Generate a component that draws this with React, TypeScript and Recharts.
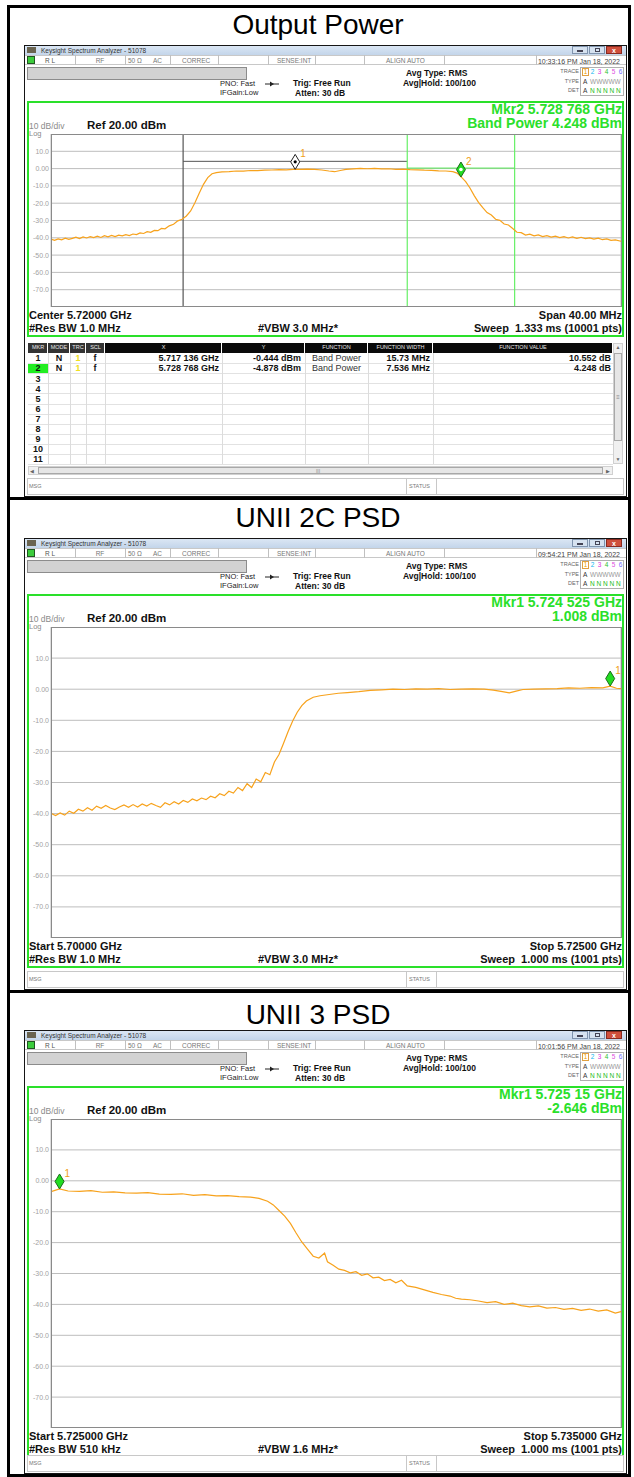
import React from "react";
import { LineChart, Line, XAxis, YAxis, CartesianGrid, ReferenceLine, ReferenceDot } from "recharts";

const FONT = '"Liberation Sans", Arial, Helvetica, sans-serif';
const TRACE = "#f7a21c";
const GREEN = "#2ae02a";
const LEVEL_TICKS = [20, 10, 0, -10, -20, -30, -40, -50, -60, -70, -80];

// Output Power: 5.700 - 5.740 GHz, offsets in MHz from 5.700 GHz
const OP_FREQ = [
  0, 0.25, 0.5, 0.75, 1, 1.25, 1.5, 1.75, 2, 2.25, 2.5, 2.75, 3, 3.25, 3.5, 3.75, 4, 4.25, 4.5, 4.75,
  5, 5.25, 5.5, 5.75, 6, 6.25, 6.5, 6.75, 7, 7.25, 7.5, 7.75, 8, 8.3, 8.6, 8.9, 9.2, 9.5, 9.8,
  10.1, 10.4, 10.7, 11, 11.3, 11.6, 12, 12.5, 13, 13.5, 14, 14.5, 15, 15.5, 16, 16.5, 17, 17.5, 18,
  18.5, 19, 19.5, 19.9, 20.3, 20.7, 21.2, 21.7, 22.2, 22.7, 23.2, 23.7, 24.2, 24.7, 25.2, 25.7, 26.2,
  26.7, 27.2, 27.7, 28.2, 28.5, 28.8, 29.1, 29.4, 29.7, 30, 30.3, 30.6, 30.9, 31.2, 31.5, 31.8, 32.1,
  32.4, 32.7, 33, 33.3, 33.6, 33.9, 34.2, 34.5, 34.8, 35.1, 35.4, 35.7, 36, 36.3, 36.6, 36.9, 37.2,
  37.5, 37.8, 38.1, 38.4, 38.7, 39, 39.3, 39.6, 40,
];
const OP_LEVEL = [
  -40.8, -41.5, -40.6, -41.2, -40.2, -40.9, -40.3, -39.6, -40.4, -39.5, -40.1, -39.3, -39.9, -39.1,
  -39.8, -38.8, -39.4, -38.6, -39.3, -38.5, -38.9, -38.2, -38.7, -37.8, -38.1, -37.2, -37.5, -36.5,
  -36.8, -35.7, -35.9, -34.6, -34.8, -33.1, -32.2, -30.2, -29.3, -27.4, -24.5, -19.8, -14.2, -9.1,
  -5.2, -3.0, -2.3, -1.9, -1.8, -1.4, -1.5, -1.1, -1.2, -0.9, -0.8, -0.6, -0.7, -0.4, -0.5, -0.3,
  -0.5, -0.8, -1.4, -1.8, -1.1, -0.5, -0.2, 0.1, -0.1, 0.1, -0.2, -0.1, -0.4, -0.3, -0.6, -0.7, -0.9,
  -1.0, -1.3, -1.4, -1.8, -2.6, -4.9, -7.5, -11.2, -15.6, -19.5, -22.6, -25.4, -26.8, -29.3, -29.9,
  -32.0, -32.6, -34.6, -36.8, -37.0, -38.4, -37.9, -38.9, -38.3, -39.3, -38.8, -39.6, -39.0, -39.9,
  -39.3, -40.1, -39.5, -40.3, -39.7, -40.5, -40.0, -40.7, -40.2, -41.1, -40.6, -41.5, -41.2, -42.0,
];
const OP_FREQ_TICKS = [0, 4, 8, 12, 16, 20, 24, 28, 32, 36, 40];
const OP_BAND_CENTER = [17.136, 28.768];
const OP_BAND_WIDTH = [15.73, 7.536];
const OP_BAND_LINE_LEVEL = [4.2, 0.3];
const OP_MKR_FREQ = [17.136, 28.768];
const OP_MKR_LEVEL = [-0.444, -4.878];

// UNII 2C PSD: 5.700 - 5.725 GHz
const U2_FREQ = [
  0, 0.2, 0.4, 0.6, 0.8, 1, 1.2, 1.4, 1.6, 1.8, 2, 2.2, 2.4, 2.6, 2.8, 3, 3.2, 3.4, 3.6, 3.8, 4, 4.2,
  4.4, 4.6, 4.8, 5, 5.2, 5.4, 5.6, 5.8, 6, 6.2, 6.4, 6.6, 6.8, 7, 7.2, 7.4, 7.6, 7.8, 8, 8.2, 8.4,
  8.6, 8.8, 9, 9.2, 9.4, 9.6, 9.8, 10, 10.2, 10.4, 10.6, 10.8, 11, 11.2, 11.5, 11.8, 12.2, 12.6, 13,
  13.5, 14, 14.5, 15, 15.5, 16, 16.5, 17, 17.5, 18, 18.5, 19, 19.4, 19.8, 20.1, 20.4, 20.7, 21.2,
  21.7, 22.2, 22.7, 23.2, 23.7, 24.2, 24.525, 24.8, 25,
];
const U2_LEVEL = [
  -39.9, -40.6, -39.8, -40.5, -39.2, -39.9, -38.6, -39.2, -38.1, -38.9, -37.6, -38.3, -37.4, -38.2,
  -38.7, -37.9, -37.2, -38.0, -37.1, -37.9, -36.9, -37.6, -36.7, -37.4, -38.0, -36.5, -37.2, -36.2,
  -36.9, -35.8, -36.4, -35.3, -35.9, -35.0, -35.5, -34.4, -34.9, -33.6, -34.2, -32.8, -33.4, -31.6,
  -32.6, -30.4, -31.6, -28.9, -29.8, -26.8, -27.5, -23.4, -21.0, -17.4, -13.6, -10.2, -7.4, -5.3,
  -3.8, -2.6, -2.1, -1.7, -1.3, -1.1, -0.8, -0.4, -0.2, 0.0, -0.1, 0.1, 0.0, 0.2, -0.1, 0.0, 0.1,
  0.0, -0.3, -0.8, -1.2, -0.6, -0.1, 0.0, 0.1, 0.2, 0.4, 0.3, 0.5, 0.4, 1.0, 0.3, 0.2,
];
const U2_FREQ_TICKS = [0, 2.5, 5, 7.5, 10, 12.5, 15, 17.5, 20, 22.5, 25];
const U2_MKR_FREQ = [24.525];
const U2_MKR_LEVEL = [1.008];

// UNII 3 PSD: 5.725 - 5.735 GHz
const U3_FREQ = [
  0, 0.15, 0.3, 0.5, 0.7, 0.9, 1.1, 1.3, 1.5, 1.7, 1.9, 2.1, 2.3, 2.5, 2.7, 2.9, 3.1, 3.3, 3.5, 3.65,
  3.8, 3.9, 4, 4.1, 4.2, 4.3, 4.4, 4.5, 4.6, 4.7, 4.8, 4.85, 4.95, 5.05, 5.15, 5.25, 5.35, 5.45, 5.55,
  5.65, 5.75, 5.85, 5.95, 6.05, 6.15, 6.25, 6.4, 6.55, 6.7, 6.85, 7, 7.1, 7.2, 7.35, 7.5, 7.65, 7.8,
  7.95, 8.1, 8.25, 8.4, 8.55, 8.7, 8.85, 9, 9.15, 9.3, 9.45, 9.6, 9.75, 9.9, 10,
];
const U3_LEVEL = [
  -3.5, -2.6, -3.3, -3.4, -3.2, -3.7, -3.6, -3.9, -4.0, -3.8, -4.3, -4.4, -4.2, -4.7, -4.5, -4.9, -4.8,
  -5.1, -5.3, -5.7, -6.6, -7.8, -9.6, -11.4, -13.8, -16.9, -19.8, -22.1, -24.4, -25.0, -23.4, -26.2,
  -27.3, -28.6, -29.0, -29.8, -29.4, -30.6, -30.1, -31.4, -31.2, -32.3, -31.9, -33.0, -32.2, -34.0,
  -34.5, -35.3, -36.1, -36.8, -37.3, -38.0, -38.3, -38.5, -38.9, -39.4, -39.1, -40.0, -39.6, -40.4,
  -40.8, -40.5, -41.2, -41.0, -41.6, -41.3, -41.9, -41.5, -42.2, -41.8, -42.8, -42.3,
];
const U3_FREQ_TICKS = [0, 1, 2, 3, 4, 5, 6, 7, 8, 9, 10];
const U3_MKR_FREQ = [0.15];
const U3_MKR_LEVEL = [-2.646];

// marker table
const TBL_HEAD = ["MKR", "MODE", "TRC", "SCL", "X", "Y", "FUNCTION", "FUNCTION WIDTH", "FUNCTION VALUE"];
const TBL_X = ["5.717 136 GHz", "5.728 768 GHz"];
const TBL_Y = ["-0.444 dBm", "-4.878 dBm"];
const TBL_FUNC = ["Band Power", "Band Power"];
const TBL_WIDTH = ["15.73 MHz", "7.536 MHz"];
const TBL_VALUE = ["10.552 dB", "4.248 dB"];
const TBL_ROWS = [1, 2, 3, 4, 5, 6, 7, 8, 9, 10, 11];

const TRACE_NUM_COLORS = ["#f0a000", "#10b8f0", "#e030e0", "#30c030", "#e050e0", "#7070ff"];

const toRows = (f: number[], v: number[]) => f.map((x, i) => ({ f: x, v: v[i] }));
const fmtLevel = (v: number) => (v === 20 || v === -80 ? "" : v === 0 ? "0.00" : v.toFixed(1));

function Txt({ x, y, s = 8, b = false, c = "#000", a = "l", children }: any) {
  const tx = a === "l" ? "0" : a === "r" ? "-100%" : "-50%";
  return (
    <div
      style={{
        position: "absolute",
        left: x,
        top: y,
        transform: `translate(${tx},-50%)`,
        fontSize: s,
        fontWeight: b ? 700 : 400,
        color: c,
        lineHeight: 1,
        whiteSpace: "pre",
        fontFamily: FONT,
      }}
    >
      {children}
    </div>
  );
}

function Box({ x, y, w, h, bg = "transparent", bd }: any) {
  return (
    <div
      style={{
        position: "absolute",
        left: x,
        top: y,
        width: w,
        height: h,
        background: bg,
        border: bd,
        boxSizing: "border-box",
      }}
    />
  );
}

function diamond(kind: "white" | "green" | "active", label: string) {
  return (p: any) => {
    const { cx, cy } = p;
    const h = 15;
    const w = 4.5;
    const my = cy - h / 2;
    const fill = kind === "white" ? "#ffffff" : "#22dd22";
    const stroke = kind === "white" ? "#222" : "#1a6a1a";
    return (
      <g>
        <polygon
          points={`${cx},${cy - h} ${cx + w},${my} ${cx},${cy} ${cx - w},${my}`}
          fill={fill}
          stroke={stroke}
          strokeWidth={1}
        />
        {kind === "white" && <circle cx={cx} cy={my} r={1.6} fill="#000" />}
        {kind === "active" && <circle cx={cx} cy={my} r={1.8} fill="#fff" />}
        <text x={cx + 5} y={cy - h + 3} fontSize={10} fill="#f0a020" fontFamily={FONT}>
          {label}
        </text>
      </g>
    );
  };
}

function Spectrum({ data, span, ticks, height, bands, markers }: any) {
  return (
    <LineChart width={594} height={height} data={data} margin={{ top: 0, right: 0, bottom: 0, left: 0 }}>
      <CartesianGrid stroke="#bdbdbd" strokeWidth={1} />
      <XAxis
        type="number"
        dataKey="f"
        domain={[0, span]}
        ticks={ticks}
        interval={0}
        height={0}
        tick={false}
        axisLine={false}
        tickLine={false}
        allowDataOverflow
      />
      <YAxis
        type="number"
        domain={[-80, 20]}
        ticks={LEVEL_TICKS}
        interval={0}
        width={24}
        axisLine={false}
        tickLine={false}
        tickSize={0}
        tickMargin={2}
        tick={{ fontSize: 7, fill: "#a2a2a2", fontFamily: FONT }}
        tickFormatter={fmtLevel}
        allowDataOverflow
      />
      {bands}
      <Line type="linear" dataKey="v" stroke={TRACE} strokeWidth={1.2} dot={false} isAnimationActive={false} />
      {markers}
    </LineChart>
  );
}

const W = 603;

function Header({ time }: { time: string }) {
  const seps = [51, 101, 146, 194, 244, 291, 340, 420, 512];
  return (
    <>
      <div style={{ position: "absolute", left: 0, top: 0, width: W, height: 10, background: "linear-gradient(#dde8f5,#c3d5ea)" }} />
      <Box x={3} y={2} w={9} h={6} bg="#6a6450" />
      <Txt x={17} y={5.5} s={6.5} c="#333">Keysight Spectrum Analyzer - 51078</Txt>
      <Box x={548} y={1} w={16} h={8} bg="#d6e2f0" bd="1px solid #7f93ad" />
      <Box x={565} y={1} w={16} h={8} bg="#d6e2f0" bd="1px solid #7f93ad" />
      <Box x={582} y={1} w={16} h={8} bg="#cf4f3c" bd="1px solid #8a2a20" />
      <Box x={553} y={5} w={6} h={1.5} bg="#445" />
      <Box x={571} y={3} w={5} h={4} bd="1px solid #445" />
      <Txt x={590} y={5} s={7} b c="#fff" a="c">x</Txt>
      <Box x={0} y={10} w={W} h={10} bg="#fff" bd="1px solid #c8c8c8" />
      {seps.map((s) => (
        <Box key={s} x={s} y={10} w={1} h={10} bg="#c0c0c0" />
      ))}
      <Box x={3} y={11} w={8} h={8} bg="#3ccc3c" bd="1px solid #225522" />
      <Txt x={21} y={15.5} s={6.5} c="#555">R L</Txt>
      <Txt x={76} y={15.5} s={6.5} c="#777" a="c">RF</Txt>
      <Txt x={104} y={15.5} s={6.5} c="#777">50 Ω</Txt>
      <Txt x={129} y={15.5} s={6.5} c="#777">AC</Txt>
      <Txt x={158} y={15.5} s={6.5} c="#777">CORREC</Txt>
      <Txt x={253} y={15.5} s={6.5} c="#777">SENSE:INT</Txt>
      <Txt x={362} y={15.5} s={6.5} c="#777">ALIGN AUTO</Txt>
      <Txt x={596} y={15.5} s={7} c="#444" a="r">{time}</Txt>
      <Box x={3} y={22} w={220} h={12.5} bg="#d2d2d2" bd="1px solid #8c8c8c" />
      <Txt x={196} y={38.5} s={7.5} c="#222">PNO: Fast</Txt>
      <Txt x={196} y={47.5} s={7.5} c="#222">IFGain:Low</Txt>
      <svg style={{ position: "absolute", left: 241, top: 36 }} width={14} height={6}>
        <line x1={0} y1={3} x2={14} y2={3} stroke="#222" strokeWidth={1} />
        <polygon points="5,0.5 9,3 5,5.5" fill="#222" />
      </svg>
      <Txt x={269} y={38} s={8.5} b c="#111">Trig: Free Run</Txt>
      <Txt x={271} y={47.5} s={8.5} b c="#111">Atten: 30 dB</Txt>
      <Txt x={382} y={28} s={8.5} b c="#111">Avg Type: RMS</Txt>
      <Txt x={379} y={37.5} s={8.5} b c="#111">Avg|Hold: 100/100</Txt>
      <Txt x={555} y={27} s={5.5} c="#666" a="r">TRACE</Txt>
      <Txt x={555} y={36.5} s={5.5} c="#666" a="r">TYPE</Txt>
      <Txt x={555} y={46} s={5.5} c="#666" a="r">DET</Txt>
      <Box x={556} y={22} w={44} h={29} bd="1px solid #b0b0b0" />
      <Box x={558} y={23} w={7} h={8} bd="1px solid #e0a040" />
      {TRACE_NUM_COLORS.map((c, i) => (
        <Txt key={i} x={561.5 + i * 7} y={27} s={6.5} c={c} a="c">{String(i + 1)}</Txt>
      ))}
      <Txt x={559} y={36.5} s={6.5} c="#333">A</Txt>
      <Txt x={566} y={36.5} s={6.5} c="#999">WWWWW</Txt>
      <Txt x={559} y={46} s={6.5} c="#333">A</Txt>
      <Txt x={566} y={46} s={6.5} c="#22bb22">N N N N N</Txt>
    </>
  );
}

function MsgRow({ y }: { y: number }) {
  return (
    <>
      <Box x={3} y={y} w={597} h={17} bg="#fff" bd="1px solid #c8c8c8" />
      <Txt x={5} y={y + 8.5} s={5.5} c="#777">MSG</Txt>
      <Box x={382} y={y} w={1} h={17} bg="#c8c8c8" />
      <Txt x={385} y={y + 8.5} s={5.5} c="#777">STATUS</Txt>
      <Box x={412} y={y} w={1} h={17} bg="#c8c8c8" />
    </>
  );
}

function MarkerTable({ y }: { y: number }) {
  const cols = [4, 24, 46, 62, 81, 198, 281, 344, 409, 589];
  const rowTop = y + 13;
  const rh = 10.1;
  return (
    <>
      <Box x={3} y={y} w={597} h={137} bg="#fff" />
      {TBL_HEAD.map((h, i) => (
        <React.Fragment key={h}>
          <Box x={cols[i]} y={y + 3} w={cols[i + 1] - cols[i] - 1} h={9.5} bg={i < 4 ? "#333" : "#0a0a0a"} />
          <Txt x={(cols[i] + cols[i + 1]) / 2} y={y + 8} s={5.5} c="#e8e8e8" a="c">{h}</Txt>
        </React.Fragment>
      ))}
      {TBL_ROWS.map((r, i) => (
        <Box key={"l" + r} x={4} y={rowTop + (i + 1) * rh} w={585} h={1} bg="#e2e2e2" />
      ))}
      {cols.slice(1, 9).map((c) => (
        <Box key={"c" + c} x={c} y={rowTop} w={1} h={11 * rh} bg="#dcdcdc" />
      ))}
      <Box x={4} y={rowTop + rh + 0.5} w={20} h={rh - 0.5} bg="#22ee22" />
      {TBL_ROWS.map((r, i) => (
        <Txt key={"n" + r} x={14} y={rowTop + i * rh + 5.3} s={9} b c="#111" a="c">{String(r)}</Txt>
      ))}
      {TBL_X.map((x, i) => (
        <React.Fragment key={"r" + i}>
          <Txt x={35} y={rowTop + i * rh + 5.3} s={9} b c="#111" a="c">N</Txt>
          <Txt x={54} y={rowTop + i * rh + 5.3} s={9} b c="#f0e020" a="c">1</Txt>
          <Txt x={71} y={rowTop + i * rh + 5.3} s={9} b c="#111" a="c">f</Txt>
          <Txt x={195} y={rowTop + i * rh + 5.3} s={9} b c="#111" a="r">{x}</Txt>
          <Txt x={277} y={rowTop + i * rh + 5.3} s={9} b c="#111" a="r">{TBL_Y[i]}</Txt>
          <Txt x={288} y={rowTop + i * rh + 5.3} s={9} c="#333">{TBL_FUNC[i]}</Txt>
          <Txt x={406} y={rowTop + i * rh + 5.3} s={9} b c="#111" a="r">{TBL_WIDTH[i]}</Txt>
          <Txt x={587} y={rowTop + i * rh + 5.3} s={9} b c="#111" a="r">{TBL_VALUE[i]}</Txt>
        </React.Fragment>
      ))}
      <Box x={589} y={y + 3} w={10} h={121} bg="#f0f0f0" bd="1px solid #d0d0d0" />
      <Box x={590} y={y + 13} w={8} h={88} bg="#e6e6e6" bd="1px solid #a8a8a8" />
      <Txt x={594} y={y + 7} s={5} c="#666" a="c">▲</Txt>
      <Txt x={594} y={y + 57} s={6} c="#888" a="c">≡</Txt>
      <Txt x={594} y={y + 119} s={5} c="#666" a="c">▼</Txt>
      <Box x={4} y={y + 126} w={585} h={9} bg="#f0f0f0" bd="1px solid #d0d0d0" />
      <Box x={14} y={y + 127} w={565} h={7} bg="#e6e6e6" bd="1px solid #a8a8a8" />
      <Txt x={8} y={y + 130.5} s={5} c="#666" a="c">◀</Txt>
      <Txt x={294} y={y + 130.5} s={5} c="#888" a="c">III</Txt>
      <Txt x={584} y={y + 130.5} s={5} c="#666" a="c">▶</Txt>
    </>
  );
}

function Panel({ cfg }: any) {
  const plotTop = 89;
  const plotBottom = plotTop + cfg.plotH;
  const greenBottom = plotBottom + 30;
  return (
    <div style={{ position: "absolute", left: 24, top: cfg.top, width: W, height: cfg.height, background: "#fff" }}>
      <Header time={cfg.time} />
      <Box x={3} y={56} w={597} h={greenBottom - 56} bd={`2px solid ${GREEN}`} />
      <Txt x={598} y={64} s={14} b c={GREEN} a="r">{cfg.mkr[0]}</Txt>
      <Txt x={598} y={78} s={14} b c={GREEN} a="r">{cfg.mkr[1]}</Txt>
      <Txt x={5} y={80.5} s={8.5} c="#8a8a8a">10 dB/div</Txt>
      <Txt x={5} y={88.5} s={7.5} c="#8a8a8a">Log</Txt>
      <Txt x={63} y={81} s={11.5} b c="#111">Ref 20.00 dBm</Txt>
      <div style={{ position: "absolute", left: 3, top: plotTop }}>
        <Spectrum
          data={cfg.data}
          span={cfg.span}
          ticks={cfg.ticks}
          height={cfg.plotH}
          bands={cfg.bands}
          markers={cfg.markers}
        />
      </div>
      <Box x={27} y={plotTop} w={571} h={cfg.plotH} bd="1.5px solid #8a8a8a" />
      <Txt x={5} y={plotBottom + 8} s={11} b c="#111">{cfg.foot[0]}</Txt>
      <Txt x={598} y={plotBottom + 8} s={11} b c="#111" a="r">{cfg.foot[1]}</Txt>
      <Txt x={5} y={plotBottom + 21} s={11} b c="#111">{cfg.foot[2]}</Txt>
      <Txt x={234} y={plotBottom + 21} s={11} b c="#111">{cfg.foot[3]}</Txt>
      <Txt x={598} y={plotBottom + 21} s={11} b c="#111" a="r">{cfg.foot[4]}</Txt>
      {cfg.table && <MarkerTable y={greenBottom + 3} />}
      <MsgRow y={cfg.height - 19} />
      <div
        style={{
          position: "absolute",
          left: 0,
          top: 0,
          width: W,
          height: cfg.height,
          border: "1.5px solid #151515",
          boxSizing: "border-box",
        }}
      />
    </div>
  );
}

const opBands = [
  <ReferenceLine key="b1l" x={OP_BAND_CENTER[0] - OP_BAND_WIDTH[0] / 2} stroke="#555" strokeWidth={1.2} />,
  <ReferenceLine
    key="b1h"
    stroke="#555"
    strokeWidth={1}
    segment={[
      { x: OP_BAND_CENTER[0] - OP_BAND_WIDTH[0] / 2, y: OP_BAND_LINE_LEVEL[0] },
      { x: OP_BAND_CENTER[0] + OP_BAND_WIDTH[0] / 2, y: OP_BAND_LINE_LEVEL[0] },
    ]}
  />,
  <ReferenceLine key="b2l" x={OP_BAND_CENTER[1] - OP_BAND_WIDTH[1] / 2} stroke="#66f066" strokeWidth={1.2} />,
  <ReferenceLine key="b2r" x={OP_BAND_CENTER[1] + OP_BAND_WIDTH[1] / 2} stroke="#66f066" strokeWidth={1.2} />,
  <ReferenceLine
    key="b2h"
    stroke="#55e855"
    strokeWidth={1}
    segment={[
      { x: OP_BAND_CENTER[1] - OP_BAND_WIDTH[1] / 2, y: OP_BAND_LINE_LEVEL[1] },
      { x: OP_BAND_CENTER[1] + OP_BAND_WIDTH[1] / 2, y: OP_BAND_LINE_LEVEL[1] },
    ]}
  />,
];

const PANELS = [
  {
    title: "Output Power",
    titleY: 25,
    top: 45,
    height: 452,
    plotH: 173,
    time: "10:33:16 PM Jan 18, 2022",
    mkr: ["Mkr2 5.728 768 GHz", "Band Power 4.248 dBm"],
    foot: ["Center 5.72000 GHz", "Span 40.00 MHz", "#Res BW 1.0 MHz", "#VBW 3.0 MHz*", "Sweep  1.333 ms (10001 pts)"],
    data: toRows(OP_FREQ, OP_LEVEL),
    span: 40,
    ticks: OP_FREQ_TICKS,
    table: true,
    bands: opBands,
    markers: [
      <ReferenceDot key="m1" x={OP_MKR_FREQ[0]} y={OP_MKR_LEVEL[0]} r={4} shape={diamond("white", "1")} />,
      <ReferenceDot key="m2" x={OP_MKR_FREQ[1]} y={OP_MKR_LEVEL[1]} r={4} shape={diamond("active", "2")} />,
    ],
  },
  {
    title: "UNII 2C PSD",
    titleY: 518,
    top: 538,
    height: 452,
    plotH: 311,
    time: "09:54:21 PM Jan 18, 2022",
    mkr: ["Mkr1 5.724 525 GHz", "1.008 dBm"],
    foot: ["Start 5.70000 GHz", "Stop 5.72500 GHz", "#Res BW 1.0 MHz", "#VBW 3.0 MHz*", "Sweep  1.000 ms (1001 pts)"],
    data: toRows(U2_FREQ, U2_LEVEL),
    span: 25,
    ticks: U2_FREQ_TICKS,
    table: false,
    bands: [],
    markers: [<ReferenceDot key="m1" x={U2_MKR_FREQ[0]} y={U2_MKR_LEVEL[0]} r={4} shape={diamond("green", "1")} />],
  },
  {
    title: "UNII 3 PSD",
    titleY: 1015,
    top: 1030,
    height: 444,
    plotH: 309,
    time: "10:01:56 PM Jan 18, 2022",
    mkr: ["Mkr1 5.725 15 GHz", "-2.646 dBm"],
    foot: ["Start 5.725000 GHz", "Stop 5.735000 GHz", "#Res BW 510 kHz", "#VBW 1.6 MHz*", "Sweep  1.000 ms (1001 pts)"],
    data: toRows(U3_FREQ, U3_LEVEL),
    span: 10,
    ticks: U3_FREQ_TICKS,
    table: false,
    bands: [],
    markers: [<ReferenceDot key="m1" x={U3_MKR_FREQ[0]} y={U3_MKR_LEVEL[0]} r={4} shape={diamond("green", "1")} />],
  },
];

export default function App() {
  return (
    <div style={{ position: "absolute", left: 0, top: 0, width: 634, height: 1477, background: "#fff", fontFamily: FONT, overflow: "hidden" }}>
      {PANELS.map((p) => (
        <Txt key={p.title} x={318} y={p.titleY} s={28} c="#000" a="c">{p.title}</Txt>
      ))}
      {PANELS.map((p) => (
        <Panel key={p.title} cfg={p} />
      ))}
      <Box x={7} y={5} w={624} h={2.5} bg="#000" />
      <Box x={7} y={497} w={624} h={3} bg="#000" />
      <Box x={7} y={990} w={624} h={3} bg="#000" />
      <Box x={7} y={1474} w={624} h={3} bg="#000" />
      <Box x={7} y={5} w={2.5} h={1472} bg="#000" />
      <Box x={628} y={5} w={3} h={1472} bg="#000" />
    </div>
  );
}
